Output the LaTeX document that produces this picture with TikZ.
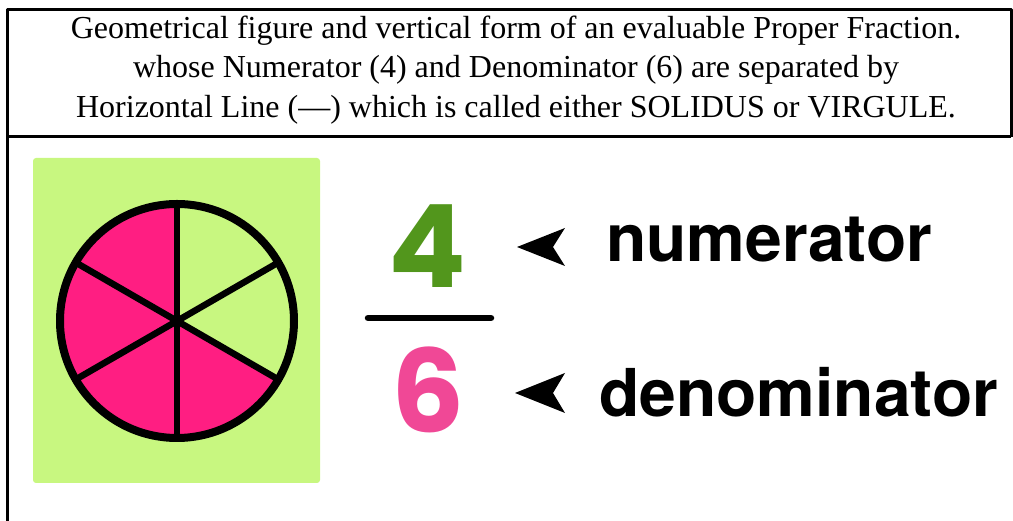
\documentclass[tikz,border=0pt]{standalone}
\usepackage{fontspec}
\usepackage{xcolor}
\usepackage{tikz}
\usetikzlibrary{calc}
\setmainfont{Liberation Serif}
\newfontfamily\labelfont{TeX Gyre Heros}
\newfontfamily\digitfont{Poppins}
\definecolor{limebg}{RGB}{200,247,128}
\definecolor{piepink}{RGB}{255,30,130}
\definecolor{numgreen}{RGB}{82,150,28}
\definecolor{denpink}{RGB}{240,72,150}
\tikzset{
  headtext/.style={anchor=base,inner sep=0pt,font=\fontsize{32}{41}\selectfont},
  bigdigit/.style={anchor=base,inner sep=0pt,font=\digitfont\bfseries\fontsize{115}{115}\selectfont},
  labeltext/.style={anchor=base west,inner sep=0pt,font=\labelfont\bfseries\fontsize{66}{66}\selectfont},
}

\begin{document}
\begin{tikzpicture}[x=1pt,y=1pt,line join=round]
  \useasboundingbox (0,0) rectangle (1013,521);
  % frame of the table
  \draw[line width=3pt] (7,0) -- (7,511) -- (1011,511) -- (1011,384);
  \draw[line width=3pt] (7,384) -- (1011,384);
  \node[headtext] (title1) at (516,482) {Geometrical figure and vertical form of an evaluable Proper Fraction.};
  \node[headtext] (title2) at (516,443) {whose Numerator (4) and Denominator (6) are separated by};
  \node[headtext] (title3) at (516,403) {Horizontal Line (---) which is called either SOLIDUS or VIRGULE.};
  % pie of six parts
  \fill[limebg,rounded corners=3pt] (33,38) rectangle (320,363);
  \coordinate (C) at (177,200);
  \fill[piepink] (C) -- ++(90:117) arc[start angle=90,end angle=330,radius=117] -- cycle;
  \draw[line width=8pt] (C) circle (117);
  \draw[line width=6.5pt] ($(C)+(90:117)$) -- ($(C)+(270:117)$);
  \draw[line width=6.5pt] ($(C)+(30:117)$) -- ($(C)+(210:117)$);
  \draw[line width=6.5pt] ($(C)+(150:117)$) -- ($(C)+(330:117)$);
  % vertical fraction
  \node[bigdigit,text=numgreen] (num) at (427,233) {4};
  \node[bigdigit,text=denpink] (den) at (428,88) {6};
  \draw[line width=6.5pt,line cap=round] (368,203) -- (491,203);
  \fill (517,274) -- (565,293) -- (553,274) -- (565,255) -- cycle;
  \fill (515,128) -- (565,148) -- (553,128) -- (565,108) -- cycle;
  \node[labeltext] (numlabel) at (606,259) {numerator};
  \node[labeltext] (denlabel) at (599,104) {denominator};
\end{tikzpicture}
\end{document}
